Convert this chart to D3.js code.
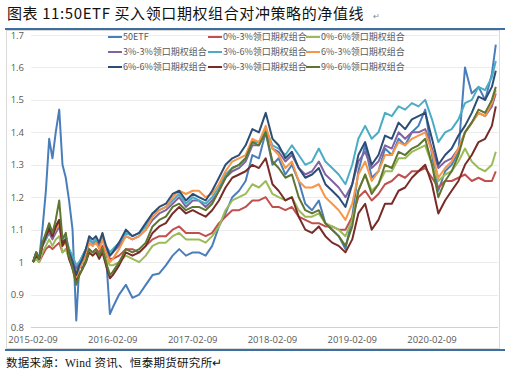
<!DOCTYPE html>
<html>
<head>
<meta charset="utf-8">
<script src="https://cdn.jsdelivr.net/npm/d3@7"></script>
<style>
  body { margin: 0; background: #fff; }
  svg { display: block; }
</style>
</head>
<body>
<div id="chart"></div>
<script>
// dates (semi-monthly in 2015, monthly after)
var dates = ["2015-02-09","2015-02-24","2015-03-09","2015-03-24","2015-04-09","2015-04-24","2015-05-09","2015-05-24",
  "2015-06-09","2015-06-24","2015-07-09","2015-07-24","2015-08-09","2015-08-26","2015-09-09","2015-09-24",
  "2015-10-09","2015-10-24","2015-11-09","2015-11-24","2015-12-09","2015-12-24","2016-01-09","2016-01-27",
  "2016-02-09","2016-03-09","2016-04-09","2016-05-09","2016-06-09","2016-07-09","2016-08-09","2016-09-09",
  "2016-10-09","2016-11-09","2016-12-09","2017-01-09","2017-02-09","2017-03-09","2017-04-09","2017-05-09",
  "2017-06-09","2017-07-09","2017-08-09","2017-09-09","2017-10-09","2017-11-09","2017-12-09","2018-01-09",
  "2018-02-09","2018-03-09","2018-04-09","2018-05-09","2018-06-09","2018-07-09","2018-08-09","2018-09-09",
  "2018-10-09","2018-11-09","2018-12-09","2019-01-09","2019-02-09","2019-03-09","2019-04-09","2019-05-09",
  "2019-06-09","2019-07-09","2019-08-09","2019-09-09","2019-10-09","2019-11-09","2019-12-09","2020-01-09",
  "2020-02-09","2020-03-09","2020-04-09","2020-05-09","2020-06-09","2020-07-09","2020-08-09","2020-09-09",
  "2020-10-09","2020-11-09","2020-11-27"];

var seriesNames = ["50ETF","0%-3%领口期权组合","0%-6%领口期权组合","3%-3%领口期权组合","3%-6%领口期权组合",
  "6%-3%领口期权组合","6%-6%领口期权组合","9%-3%领口期权组合","9%-6%领口期权组合"];

var etf50 = [1.00,1.03,1.01,1.10,1.22,1.38,1.32,1.40,1.47,1.30,1.26,1.19,1.10,0.82,0.99,0.98,
  1.02,1.06,1.05,1.07,1.05,1.08,1.02,0.84,0.86,0.90,0.93,0.89,0.90,0.93,0.96,0.965,
  0.99,1.02,1.04,1.02,1.03,1.03,1.02,1.05,1.11,1.15,1.20,1.22,1.25,1.33,1.32,1.40,
  1.30,1.32,1.27,1.30,1.25,1.18,1.16,1.19,1.12,1.10,1.08,1.04,1.14,1.28,1.36,1.26,
  1.28,1.35,1.33,1.38,1.36,1.40,1.42,1.47,1.33,1.22,1.28,1.30,1.34,1.60,1.52,1.54,
  1.50,1.58,1.67];

var c0_3 = [1.00,1.01,1.00,1.02,1.04,1.05,1.04,1.05,1.06,1.03,1.04,1.02,1.00,0.99,1.00,1.01,
  1.02,1.04,1.03,1.04,1.03,1.05,1.03,1.01,1.01,1.02,1.04,1.04,1.03,1.05,1.07,1.08,
  1.08,1.10,1.11,1.09,1.09,1.09,1.08,1.09,1.12,1.14,1.16,1.16,1.17,1.19,1.19,1.20,
  1.17,1.17,1.16,1.17,1.14,1.13,1.12,1.12,1.11,1.11,1.10,1.10,1.14,1.20,1.22,1.19,
  1.21,1.24,1.25,1.27,1.26,1.28,1.28,1.29,1.26,1.23,1.25,1.25,1.26,1.27,1.25,1.26,
  1.25,1.25,1.28];

var c0_6 = [1.00,1.01,1.00,1.03,1.05,1.07,1.05,1.07,1.08,1.03,1.04,1.01,0.99,0.97,0.99,1.00,
  1.01,1.03,1.02,1.03,1.02,1.04,1.01,0.99,0.99,1.00,1.02,1.01,1.00,1.02,1.05,1.06,
  1.06,1.08,1.09,1.07,1.07,1.07,1.06,1.08,1.11,1.16,1.19,1.20,1.21,1.24,1.23,1.25,
  1.21,1.20,1.19,1.20,1.16,1.14,1.14,1.15,1.12,1.11,1.10,1.08,1.13,1.22,1.27,1.22,
  1.24,1.28,1.28,1.32,1.32,1.34,1.35,1.36,1.30,1.25,1.27,1.28,1.31,1.35,1.31,1.29,
  1.28,1.30,1.34];

var c3_3 = [1.00,1.02,1.01,1.05,1.07,1.09,1.07,1.09,1.11,1.06,1.07,1.04,1.01,0.98,1.00,1.02,
  1.04,1.07,1.06,1.07,1.05,1.08,1.04,1.02,1.03,1.05,1.08,1.07,1.08,1.10,1.13,1.15,
  1.16,1.18,1.20,1.17,1.19,1.19,1.17,1.19,1.22,1.26,1.28,1.29,1.31,1.36,1.36,1.41,
  1.35,1.34,1.31,1.33,1.29,1.27,1.28,1.31,1.27,1.25,1.23,1.20,1.24,1.31,1.34,1.29,
  1.31,1.36,1.35,1.40,1.38,1.40,1.40,1.41,1.35,1.29,1.31,1.32,1.35,1.40,1.43,1.46,
  1.45,1.48,1.52];

var c3_6 = [1.00,1.02,1.01,1.05,1.07,1.10,1.08,1.10,1.12,1.07,1.08,1.04,1.02,0.99,1.00,1.02,
  1.04,1.07,1.06,1.07,1.06,1.08,1.05,1.03,1.04,1.06,1.09,1.08,1.09,1.11,1.15,1.16,
  1.17,1.19,1.21,1.18,1.20,1.19,1.18,1.20,1.23,1.27,1.29,1.30,1.32,1.37,1.37,1.41,
  1.36,1.35,1.33,1.36,1.33,1.30,1.31,1.35,1.31,1.29,1.27,1.24,1.30,1.38,1.42,1.38,
  1.40,1.46,1.45,1.48,1.47,1.49,1.48,1.50,1.44,1.37,1.40,1.41,1.44,1.49,1.50,1.54,
  1.53,1.57,1.62];

var c6_3 = [1.00,1.02,1.01,1.06,1.08,1.10,1.08,1.10,1.12,1.05,1.06,1.02,0.99,0.95,0.98,1.00,
  1.03,1.06,1.05,1.06,1.04,1.07,1.03,1.00,1.01,1.04,1.08,1.07,1.08,1.10,1.14,1.16,
  1.17,1.20,1.22,1.21,1.22,1.22,1.20,1.21,1.24,1.28,1.31,1.32,1.33,1.38,1.37,1.42,
  1.35,1.33,1.29,1.31,1.25,1.23,1.23,1.24,1.20,1.18,1.16,1.13,1.18,1.27,1.31,1.25,
  1.28,1.33,1.33,1.37,1.36,1.38,1.39,1.40,1.34,1.26,1.29,1.31,1.35,1.40,1.43,1.46,
  1.45,1.49,1.53];

var c6_6 = [1.00,1.03,1.01,1.06,1.08,1.11,1.08,1.11,1.13,1.06,1.07,1.03,1.00,0.96,0.99,1.01,
  1.04,1.08,1.07,1.08,1.06,1.09,1.05,1.02,1.03,1.06,1.10,1.08,1.09,1.12,1.15,1.17,
  1.18,1.21,1.22,1.19,1.21,1.20,1.19,1.22,1.26,1.30,1.32,1.33,1.36,1.41,1.40,1.46,
  1.38,1.36,1.32,1.34,1.29,1.26,1.27,1.29,1.24,1.22,1.20,1.17,1.24,1.33,1.37,1.30,
  1.33,1.39,1.38,1.43,1.41,1.44,1.45,1.46,1.38,1.30,1.33,1.35,1.39,1.42,1.46,1.51,
  1.50,1.54,1.59];

var c9_3 = [1.00,1.02,1.01,1.05,1.08,1.10,1.08,1.11,1.13,1.05,1.07,1.01,0.98,0.94,0.96,0.98,
  1.00,1.03,1.02,1.03,1.01,1.03,0.99,0.95,0.96,0.99,1.03,1.02,1.03,1.05,1.09,1.11,
  1.12,1.15,1.17,1.15,1.16,1.15,1.14,1.16,1.19,1.23,1.26,1.27,1.28,1.30,1.29,1.32,
  1.24,1.22,1.19,1.20,1.14,1.10,1.09,1.11,1.08,1.06,1.05,1.03,1.07,1.15,1.18,1.10,
  1.13,1.18,1.18,1.22,1.23,1.26,1.28,1.30,1.24,1.15,1.19,1.22,1.25,1.30,1.33,1.37,
  1.38,1.42,1.48];

var c9_6 = [1.00,1.03,1.01,1.06,1.09,1.12,1.09,1.13,1.19,1.07,1.09,1.02,0.98,0.93,0.96,0.98,
  1.00,1.04,1.03,1.04,1.02,1.04,1.00,0.96,0.97,1.00,1.04,1.03,1.04,1.06,1.11,1.13,
  1.14,1.17,1.18,1.16,1.17,1.17,1.16,1.18,1.22,1.26,1.29,1.30,1.32,1.37,1.36,1.40,
  1.31,1.29,1.26,1.27,1.20,1.16,1.15,1.16,1.12,1.10,1.08,1.05,1.11,1.22,1.27,1.21,
  1.24,1.30,1.29,1.34,1.33,1.35,1.36,1.38,1.30,1.20,1.25,1.28,1.33,1.40,1.43,1.47,
  1.46,1.50,1.54];

var seriesValues = [etf50, c0_3, c0_6, c3_3, c3_6, c6_3, c6_6, c9_3, c9_6];
var colors = ["#4a7ebb","#c0504d","#9bbb59","#8064a2","#4bacc6","#f79646","#2c4d75","#772c2a","#5f7530"];

var yTicks = [0.8, 0.9, 1, 1.1, 1.2, 1.3, 1.4, 1.5, 1.6, 1.7];
var xTicks = ["2015-02-09","2016-02-09","2017-02-09","2018-02-09","2019-02-09","2020-02-09"];

var W = 506, H = 377;
var parse = d3.utcParse("%Y-%m-%d");
var fontCJK = "'Noto Sans CJK SC', 'Noto Sans', sans-serif";

var svg = d3.select("#chart").append("svg")
  .attr("width", W)
  .attr("height", H);

// title + rules
svg.append("text")
  .attr("x", 7).attr("y", 19)
  .attr("font-family", fontCJK)
  .attr("font-size", 15)
  .attr("letter-spacing", 0.6)
  .attr("fill", "#111")
  .text("图表 11:50ETF 买入领口期权组合对冲策略的净值线");
svg.append("text")
  .attr("x", 373).attr("y", 19)
  .attr("font-family", fontCJK)
  .attr("font-size", 8)
  .attr("fill", "#888")
  .text("↵");

svg.append("line").attr("x1", 5).attr("x2", 505).attr("y1", 29).attr("y2", 29)
  .attr("stroke", "#3e6f9f").attr("stroke-width", 2);

// chart frame
svg.append("rect")
  .attr("x", 6.5).attr("y", 30.5).attr("width", 493).attr("height", 318)
  .attr("fill", "none").attr("stroke", "#d9d9d9");

svg.append("line").attr("x1", 5).attr("x2", 505).attr("y1", 350).attr("y2", 350)
  .attr("stroke", "#3e6f9f").attr("stroke-width", 2);

svg.append("text")
  .attr("x", 6).attr("y", 367)
  .attr("font-family", "'Liberation Serif', 'Noto Sans CJK SC', serif")
  .attr("font-size", 11.5)
  .attr("letter-spacing", 0.3)
  .attr("fill", "#111")
  .text("数据来源：Wind 资讯、恒泰期货研究所↵");

// scales
var x = d3.scaleUtc()
  .domain([parse("2015-02-09"), parse("2020-02-09")])
  .range([33, 432]);
var y = d3.scaleLinear()
  .domain([0.8, 1.7])
  .range([327, 35]);

// gridlines
svg.append("g")
  .selectAll("line")
  .data(yTicks)
  .join("line")
  .attr("x1", 31).attr("x2", 498)
  .attr("y1", d => Math.round(y(d)) + 0.5)
  .attr("y2", d => Math.round(y(d)) + 0.5)
  .attr("stroke", d => d === 0.8 ? "#d0d0d0" : "#ececec");

// y labels
svg.append("g")
  .selectAll("text")
  .data(yTicks)
  .join("text")
  .attr("x", 24)
  .attr("y", d => y(d) + 3.5)
  .attr("text-anchor", "end")
  .attr("font-family", "'Open Sans', sans-serif")
  .attr("font-size", 9.5)
  .attr("fill", "#595959")
  .text(d => d);

// x labels
svg.append("g")
  .selectAll("text")
  .data(xTicks)
  .join("text")
  .attr("x", d => x(parse(d)))
  .attr("y", 343)
  .attr("text-anchor", "middle")
  .attr("font-family", "'Open Sans', sans-serif")
  .attr("font-size", 9.5)
  .attr("fill", "#595959")
  .text(d => d);

// lines
var line = d3.line()
  .x((d, i) => x(parse(dates[i])))
  .y(d => y(d));

svg.append("g")
  .selectAll("path")
  .data(seriesValues)
  .join("path")
  .attr("d", d => line(d))
  .attr("fill", "none")
  .attr("stroke", (d, i) => colors[i])
  .attr("stroke-width", 2)
  .attr("stroke-linejoin", "round");

// legend, 3 columns
var legendCols = [108, 208, 306];
var legendRows = [37, 52, 67];
var leg = svg.append("g")
  .selectAll("g")
  .data(seriesNames)
  .join("g")
  .attr("transform", (d, i) => "translate(" + legendCols[i % 3] + "," + legendRows[Math.floor(i / 3)] + ")");
leg.append("line")
  .attr("x1", 0).attr("x2", 14)
  .attr("stroke", (d, i) => colors[i])
  .attr("stroke-width", 2);
leg.append("text")
  .attr("x", 15).attr("y", 3.2)
  .attr("font-family", fontCJK)
  .attr("font-size", 9)
  .attr("fill", "#595959")
  .text(d => d);
</script>
</body>
</html>
